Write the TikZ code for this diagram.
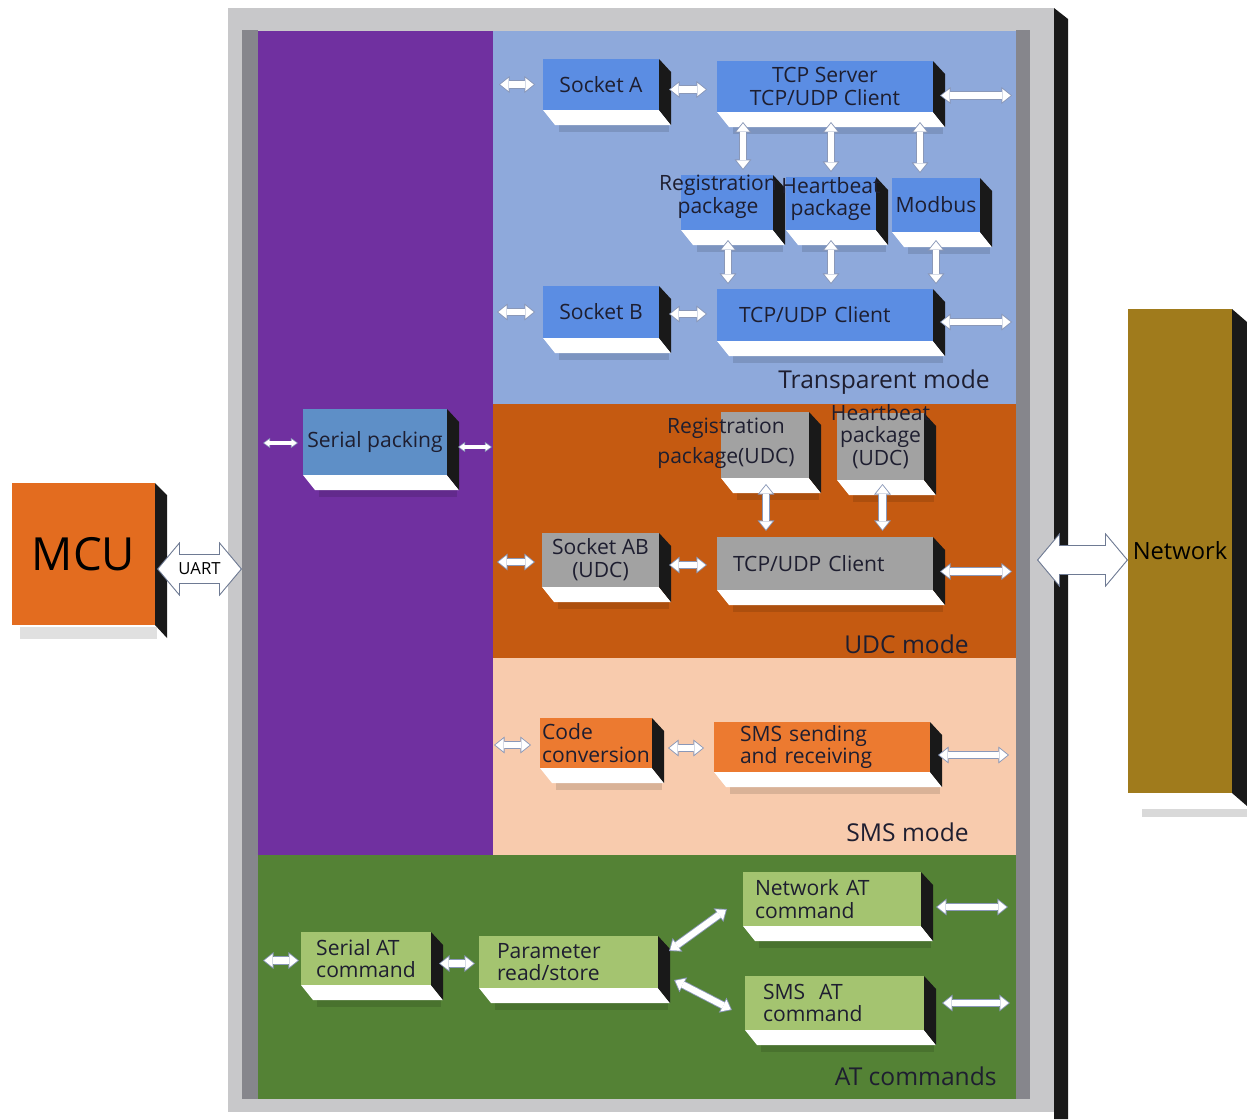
\documentclass[tikz,border=0pt]{standalone}
\usepackage{fontspec}
\setmainfont{Open Sans}
\usepackage{tikz}
\usetikzlibrary{positioning, arrows.meta, calc, fit}

\definecolor{frameg}{HTML}{C8C8CA}
\definecolor{stripg}{HTML}{86868C}
\definecolor{purp}{HTML}{7030A0}
\definecolor{transb}{HTML}{8EA9DB}
\definecolor{udco}{HTML}{C55A11}
\definecolor{smsp}{HTML}{F8CBAD}
\definecolor{atg}{HTML}{548235}
\definecolor{blueblk}{HTML}{5B8DE3}
\definecolor{serblk}{HTML}{5E8FC7}
\definecolor{grayblk}{HTML}{A2A2A2}
\definecolor{smsblk}{HTML}{EC7A30}
\definecolor{atblk}{HTML}{A4C470}
\definecolor{mcuo}{HTML}{E36C1F}
\definecolor{netb}{HTML}{A07B1C}
\definecolor{txtc}{HTML}{1E1E30}
\definecolor{edgec}{HTML}{8A98B8}

\pgfdeclarelayer{faces}
\pgfsetlayers{faces,main}

\newcommand{\twoway}[3][wire]{%
  \draw[#1 out] #2 -- #3;
  \draw[#1 in] #2 -- #3;}

\tikzset{
  wireO/.tip={Triangle[length=6pt,width=9.6pt,line width=0pt]},
  wireI/.tip={Triangle[length=4.7pt,width=7.5pt,line width=0pt]},
  thinO/.tip={Triangle[length=4pt,width=5.8pt,line width=0pt]},
  thinI/.tip={Triangle[length=2.9pt,width=4.2pt,line width=0pt]},
  bigO/.tip={Triangle[length=13pt,width=31pt,line width=0pt]},
  bigI/.tip={Triangle[length=11.6pt,width=27.7pt,line width=0pt]},
  wire out/.style={draw=edgec, line width=4.6pt, wireO-wireO},
  wire in/.style={draw=white, line width=3.6pt, wireI-wireI, shorten <=0.8pt, shorten >=0.8pt},
  thin out/.style={draw=edgec, line width=2.6pt, thinO-thinO},
  thin in/.style={draw=white, line width=1.8pt, thinI-thinI, shorten <=0.7pt, shorten >=0.7pt},
  big out/.style={draw=edgec!80!black, line width=17pt, bigO-bigO},
  big in/.style={draw=white, line width=15.8pt, bigI-bigI, shorten <=0.8pt, shorten >=0.8pt}
}

\begin{document}
\begin{tikzpicture}[x=0.02cm, y=-0.02cm,
  panel/.style={inner sep=0pt, outer sep=0pt},
  boxwh/.style 2 args={minimum width=#1*0.02cm, minimum height=#2*0.02cm},
  tw/.style={text width=#1*0.02cm, align=left},
  blk/.style={inner sep=0pt, outer sep=0pt, align=center, text=txtc, font=\fontsize{12}{13}\selectfont},
  blktxt/.style={inner sep=0pt, align=center, text=txtc, font=\fontsize{12}{13}\selectfont},
  modetxt/.style={inner sep=0pt, anchor=east, text=txtc, font=\fontsize{14}{16}\selectfont}]

% frame and mode panels
\begin{pgfonlayer}{faces}
\path[use as bounding box, fill=white] (0,0) rectangle (1247,1119);
\node[panel, fill=frameg, fit={(228,8) (1054,1112)}] (frame) {};
\node[panel, fill=stripg, fit={(242,30) (258,1099)}] (lstrip) {};
\node[panel, fill=stripg, fit={(1016,30) (1030,1099)}] (rstrip) {};
\node[panel, fill=purp, fit={(258,31) (493,855)}] (serpan) {};
\node[panel, fill=transb, fit={(493,31) (1016,404)}] (transpan) {};
\node[panel, fill=udco, fit={(493,404) (1016,658)}] (udcpan) {};
\node[panel, fill=smsp, fit={(493,658) (1016,855)}] (smspan) {};
\node[panel, fill=atg, fit={(258,855) (1016,1099)}] (atpan) {};
\end{pgfonlayer}
\fill[black!90] (frame.north east) -- ++(14,11) -- ($(frame.south east)+(14,7)$) -- ($(frame.south east)+(0,7)$) -- cycle;

\node[modetxt] (transl) at (990,382) {Transparent mode};
\node[modetxt] (udcl) at (969,644) {UDC mode};
\node[modetxt] (smsl) at (969,832) {SMS mode};
\node[modetxt] (atl) at (997,1076) {AT commands};

% blocks
\node[blk, fill=blueblk, boxwh={116}{51}] (sockA) at (601,84.5) {Socket A};
\node[blk, fill=blueblk, boxwh={216}{51}] (tcps) at (825,86.5) {TCP Server\\TCP/UDP Client};
\node[blk, fill=blueblk, boxwh={92}{55}, label={[blktxt, xshift=-0.18cm, yshift=0.11cm]center:Registration\\package}] (reg) at (727,202.5) {};
\node[blk, fill=blueblk, boxwh={90}{53}, label={[blktxt, yshift=0.09cm]center:Heartbeat\\package}] (hb) at (831,203.5) {};
\node[blk, fill=blueblk, boxwh={88}{54}] (mod) at (936,205) {Modbus};
\node[blk, fill=blueblk, boxwh={116}{52}] (sockB) at (601,312) {Socket B};
\node[blk, fill=blueblk, boxwh={216}{52}, tw=172] (tcpb) at (825,315) {TCP/UDP Client};
\node[blk, fill=serblk, boxwh={144}{66}] (serp) at (375,442) {Serial packing};
\node[blk, fill=grayblk, boxwh={88}{66}, label={[blktxt, xshift=-0.78cm, yshift=0.04cm]center:Registration\\[4pt]package(UDC)}] (regu) at (765,445) {};
\node[blk, fill=grayblk, boxwh={87}{67}, label={[blktxt, yshift=0.2cm]center:Heartbeat\\package\\(UDC)}] (hbu) at (880.5,446.5) {};
\node[blk, fill=grayblk, boxwh={117}{54}] (sockab) at (600.5,560) {Socket AB\\(UDC)};
\node[blk, fill=grayblk, boxwh={216}{53}, tw=184] (tcpu) at (825,563.5) {TCP/UDP Client};
\node[blk, fill=smsblk, boxwh={112}{50}, align=left] (code) at (596,743) {Code\\conversion};
\node[blk, fill=smsblk, boxwh={216}{50}, tw=164] (smsr) at (822,747) {SMS sending\\and receiving};
\node[blk, fill=atblk, boxwh={130}{53}, align=left] (serat) at (366,958.5) {Serial AT\\command};
\node[blk, fill=atblk, boxwh={179}{52}, tw=143] (param) at (568.5,962) {Parameter\\read/store};
\node[blk, fill=atblk, boxwh={178}{54}, tw=154] (netat) at (832,899) {Network AT\\command};
\node[blk, fill=atblk, boxwh={179}{54}, tw=143] (smsat) at (834.5,1003) {SMS~ AT\\command};

% 3d faces
\begin{pgfonlayer}{faces}
\foreach \b in {sockA, tcps, reg, hb, mod, sockB, tcpb, serp, regu, hbu, sockab, tcpu, code, smsr, serat, param, netat, smsat} {
  \fill[black, opacity=0.12] ($(\b.south west)+(16,15)$) rectangle ($(\b.south east)+(10,22)$);
  \fill[white] (\b.south west) -- (\b.south east) -- ++(12,15) -- ($(\b.south west)+(12,15)$) -- cycle;
  \fill[black!90] (\b.north east) -- ++(12,13) -- ($(\b.south east)+(12,15)$) -- (\b.south east) -- cycle;
}
\end{pgfonlayer}

% MCU and network
\node[inner sep=0pt, outer sep=0pt, fill=mcuo, text=black, font=\fontsize{26}{28}\selectfont, boxwh={143}{142}] (mcu) at (83.5,554) {MCU};
\fill[black!12] ($(mcu.south west)+(8,2)$) rectangle ($(mcu.south east)+(2,14)$);
\fill[black!90] (mcu.north east) -- ++(12,12) -- ($(mcu.south east)+(12,13)$) -- (mcu.south east) -- cycle;
\node[inner sep=0pt, outer sep=0pt, fill=netb, text=black, font=\fontsize{13.5}{15}\selectfont, boxwh={104}{484}] (net) at (1180,551) {Network};
\fill[black!15] ($(net.south west)+(14,16)$) rectangle ($(net.south east)+(15,24)$);
\fill[black!90] (net.north east) -- ++(15,13) -- ($(net.south east)+(15,13)$) -- (net.south east) -- cycle;

\twoway[big]{($(mcu.east)+(2,15)$)}{($(lstrip.west |- mcu.east)+(0,15)$)}
\node[inner sep=0pt, text=black, font=\fontsize{9.5}{10}\selectfont] (uart) at ($(mcu.east)!0.5!(lstrip.west |- mcu.east)+(1,15)$) {UART};
\twoway[big]{($(rstrip.east |- net.west)+(7,9)$)}{($(net.west)+(0,9)$)}

% serial packing
\twoway[thin]{($(lstrip.east |- serp.west)+(5,1)$)}{($(serp.west)+(-5,1)$)}
\twoway[thin]{($(serp.east)+(11,5)$)}{($(serpan.east |- serp.east)+(-1,5)$)}

% transparent mode
\twoway{($(transpan.west |- sockA.west)+(6,0)$)}{($(sockA.west)+(-8,0)$)}
\twoway{($(sockA.east)+(10,5)$)}{($(tcps.west |- sockA.east)+(-10,5)$)}
\twoway{($(tcps.east)+(7,9)$)}{($(rstrip.west |- tcps.east)+(-4,9)$)}
\twoway{($(tcps.south -| reg.north)+(16,10)$)}{($(reg.north)+(16,-5)$)}
\twoway{($(tcps.south -| hb.north)+(0,10)$)}{($(hb.north)+(0,-5)$)}
\twoway{($(tcps.south -| mod.north)+(-16,10)$)}{($(mod.north)+(-16,-5)$)}
\twoway{($(reg.south)+(1,10)$)}{($(tcpb.north -| reg.south)+(1,-5)$)}
\twoway{($(hb.south)+(0,10)$)}{($(tcpb.north -| hb.south)+(0,-5)$)}
\twoway{($(mod.south)+(0,8)$)}{($(tcpb.north -| mod.south)+(0,-5)$)}
\twoway{($(transpan.west |- sockB.west)+(4,0)$)}{($(sockB.west)+(-8,0)$)}
\twoway{($(sockB.east)+(10,2)$)}{($(tcpb.west |- sockB.east)+(-10,2)$)}
\twoway{($(tcpb.east)+(7,7)$)}{($(rstrip.west |- tcpb.east)+(-4,7)$)}

% UDC mode
\twoway{($(udcpan.west |- sockab.west)+(4,2)$)}{($(sockab.west)+(-7,2)$)}
\twoway{($(sockab.east)+(10,5)$)}{($(tcpu.west |- sockab.east)+(-10,5)$)}
\twoway{($(tcpu.east)+(7,8)$)}{($(rstrip.west |- tcpu.east)+(-4,8)$)}
\twoway{($(regu.south)+(1,6)$)}{($(tcpu.north -| regu.south)+(1,-6)$)}
\twoway{($(hbu.south)+(2,4)$)}{($(tcpu.north -| hbu.south)+(2,-6)$)}

% SMS mode
\twoway{($(smspan.west |- code.west)+(1,2)$)}{($(code.west)+(-9,2)$)}
\twoway{($(code.east)+(16,5)$)}{($(smsr.west |- code.east)+(-10,5)$)}
\twoway{($(smsr.east)+(8,8)$)}{($(rstrip.west |- smsr.east)+(-7,8)$)}

% AT commands
\twoway{($(lstrip.east |- serat.west)+(5,2)$)}{($(serat.west)+(-2,2)$)}
\twoway{($(serat.east)+(8,5)$)}{($(param.west |- serat.east)+(-4,5)$)}
\twoway{($(param.east)+(11,-11)$)}{($(netat.west)+(-16,10)$)}
\twoway{($(param.east)+(16,18)$)}{($(smsat.west)+(-13,7)$)}
\twoway{($(netat.east)+(15,8)$)}{($(rstrip.west |- netat.east)+(-8,8)$)}
\twoway{($(smsat.east)+(18,0)$)}{($(rstrip.west |- smsat.east)+(-6,0)$)}
\end{tikzpicture}
\end{document}
